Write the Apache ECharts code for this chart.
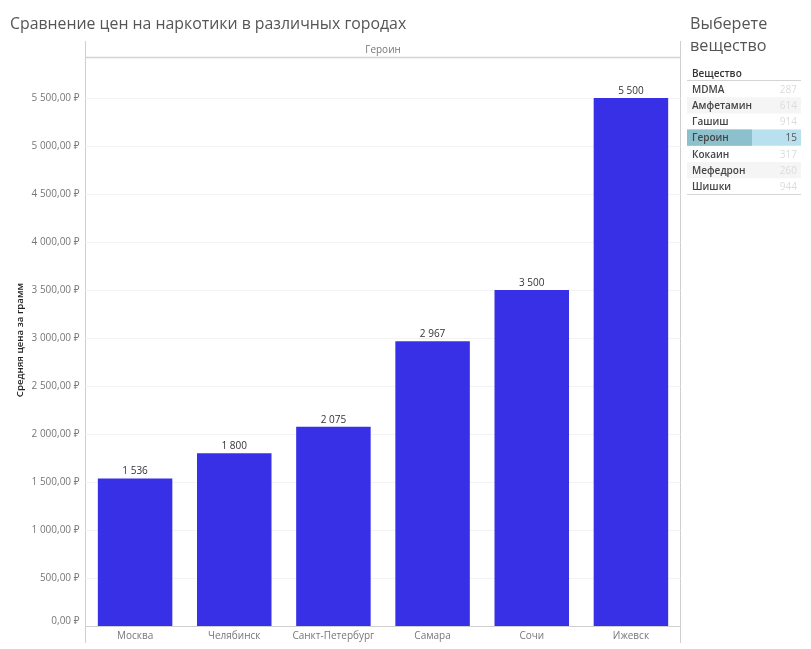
<!DOCTYPE html>
<html>
<head>
<meta charset="utf-8">
<style>
  html, body { margin: 0; padding: 0; background: #fff; }
  #chart { width: 811px; height: 649px; }
</style>
<script src="https://cdn.jsdelivr.net/npm/echarts@6/dist/echarts.min.js"></script>
</head>
<body>
<div id="chart"></div>
<script>
'use strict';

var FONT = '"Open Sans", "Noto Sans", sans-serif';

// данные графика
var cities = ['Москва', 'Челябинск', 'Санкт-Петербург', 'Самара', 'Сочи', 'Ижевск'];
var prices = [1536, 1800, 2075, 2967, 3500, 5500];
var substance = 'Героин';

// список веществ справа
var substances = ['MDMA', 'Амфетамин', 'Гашиш', 'Героин', 'Кокаин', 'Мефедрон', 'Шишки'];
var substanceCounts = [287, 614, 914, 15, 317, 260, 944];

function groupThousands(n) {
  return String(n).replace(/\B(?=(\d{3})+$)/g, '\u00a0');
}

function priceLabel(v) {
  return groupThousands(Math.floor(v)) + ',00\u00a0₽';
}

// рисуем панель выбора вещества
function buildPanel() {
  var items = [];
  var rowTop = 81;
  var rowH = 16.2;
  var left = 687;
  var right = 801;

  items.push({ type: 'text', style: { x: 692, y: 74.5, text: 'Вещество', font: '600 10px ' + FONT, fill: '#333', verticalAlign: 'middle' } });
  items.push({ type: 'line', shape: { x1: left, y1: 80.5, x2: right, y2: 80.5 }, style: { stroke: '#d4d4d4', lineWidth: 1 } });

  for (var i = 0; i < substances.length; i++) {
    var y = rowTop + i * rowH;
    var active = substances[i] === substance;
    if (active) {
      items.push({ type: 'rect', shape: { x: left, y: y, width: right - left, height: rowH }, style: { fill: '#b9e0ee' } });
      items.push({ type: 'rect', shape: { x: left, y: y, width: 65, height: rowH }, style: { fill: '#8cc0cd' } });
    } else if (i % 4 === 1) {
      items.push({ type: 'rect', shape: { x: left, y: y, width: right - left, height: rowH }, style: { fill: '#f5f5f5' } });
    }
    items.push({ type: 'text', style: { x: 692, y: y + rowH / 2 + 0.8, text: substances[i], font: '600 10px ' + FONT, fill: '#444', verticalAlign: 'middle' } });
    items.push({ type: 'text', style: { x: 797, y: y + rowH / 2 + 0.8, text: String(substanceCounts[i]), font: '10px ' + FONT, fill: active ? '#555' : '#dcdcdc', align: 'right', verticalAlign: 'middle' } });
  }
  items.push({ type: 'line', shape: { x1: left, y1: 194.5, x2: right, y2: 194.5 }, style: { stroke: '#d4d4d4', lineWidth: 1 } });
  return items;
}

var frame = [
  { type: 'line', shape: { x1: 85.5, y1: 41, x2: 85.5, y2: 643 }, style: { stroke: '#cfcfcf', lineWidth: 1 } },
  { type: 'line', shape: { x1: 680.5, y1: 41, x2: 680.5, y2: 643 }, style: { stroke: '#cfcfcf', lineWidth: 1 } },
  { type: 'line', shape: { x1: 85.5, y1: 57.5, x2: 680.5, y2: 57.5 }, style: { stroke: '#d4d4d4', lineWidth: 1.5 } },
  { type: 'text', style: { x: 383, y: 50.5, text: substance, font: '10px ' + FONT, fill: '#777', align: 'center', verticalAlign: 'middle' } },
  { type: 'text', style: { x: 10, y: 24, text: 'Сравнение цен на наркотики в различных городах', font: '15.85px ' + FONT, fill: '#555', verticalAlign: 'middle' } },
  { type: 'text', style: { x: 690, y: 24, text: 'Выберете', font: '16.2px ' + FONT, fill: '#555', verticalAlign: 'middle' } },
  { type: 'text', style: { x: 690, y: 46, text: 'вещество', font: '16.2px ' + FONT, fill: '#555', verticalAlign: 'middle' } },
  // подпись оси Y
  { type: 'text', x: 20, y: 340, rotation: Math.PI / 2, style: { x: 0, y: 0, text: 'Средняя цена за грамм', font: '600 9.7px ' + FONT, fill: '#222', align: 'center', verticalAlign: 'middle' } }
];

var chart = echarts.init(document.getElementById('chart'), null, { renderer: 'canvas' });
var option = {
  animation: false,
  backgroundColor: '#fff',
  grid: { left: 85.5, right: 130.5, top: 57.5, bottom: 23 },
  xAxis: {
    type: 'category',
    data: cities,
    axisTick: { show: false },
    axisLine: { lineStyle: { color: '#cfcfcf', width: 1 } },
    axisLabel: { color: '#777', fontSize: 10, fontFamily: FONT, margin: 5, interval: 0 }
  },
  yAxis: {
    type: 'value',
    min: 0,
    max: 5922,
    interval: 500,
    axisLine: { show: false },
    axisTick: { show: false },
    splitLine: { showMaxLine: false, lineStyle: { color: '#f3f3f3', width: 1 } },
    axisLabel: {
      color: '#777',
      fontSize: 10,
      fontFamily: FONT,
      margin: 6,
      showMaxLabel: false,
      verticalAlignMinLabel: 'bottom',
      formatter: priceLabel
    }
  },
  series: [{
    type: 'bar',
    data: prices,
    barWidth: 74.5,
    itemStyle: { color: '#3730e6' },
    label: {
      show: true,
      position: 'top',
      distance: 2,
      color: '#333',
      fontSize: 10,
      fontFamily: FONT,
      formatter: function(p) { return groupThousands(p.value); }
    }
  }],
  graphic: { elements: frame.concat(buildPanel()) }
};

chart.setOption(option);
</script>
</body>
</html>
